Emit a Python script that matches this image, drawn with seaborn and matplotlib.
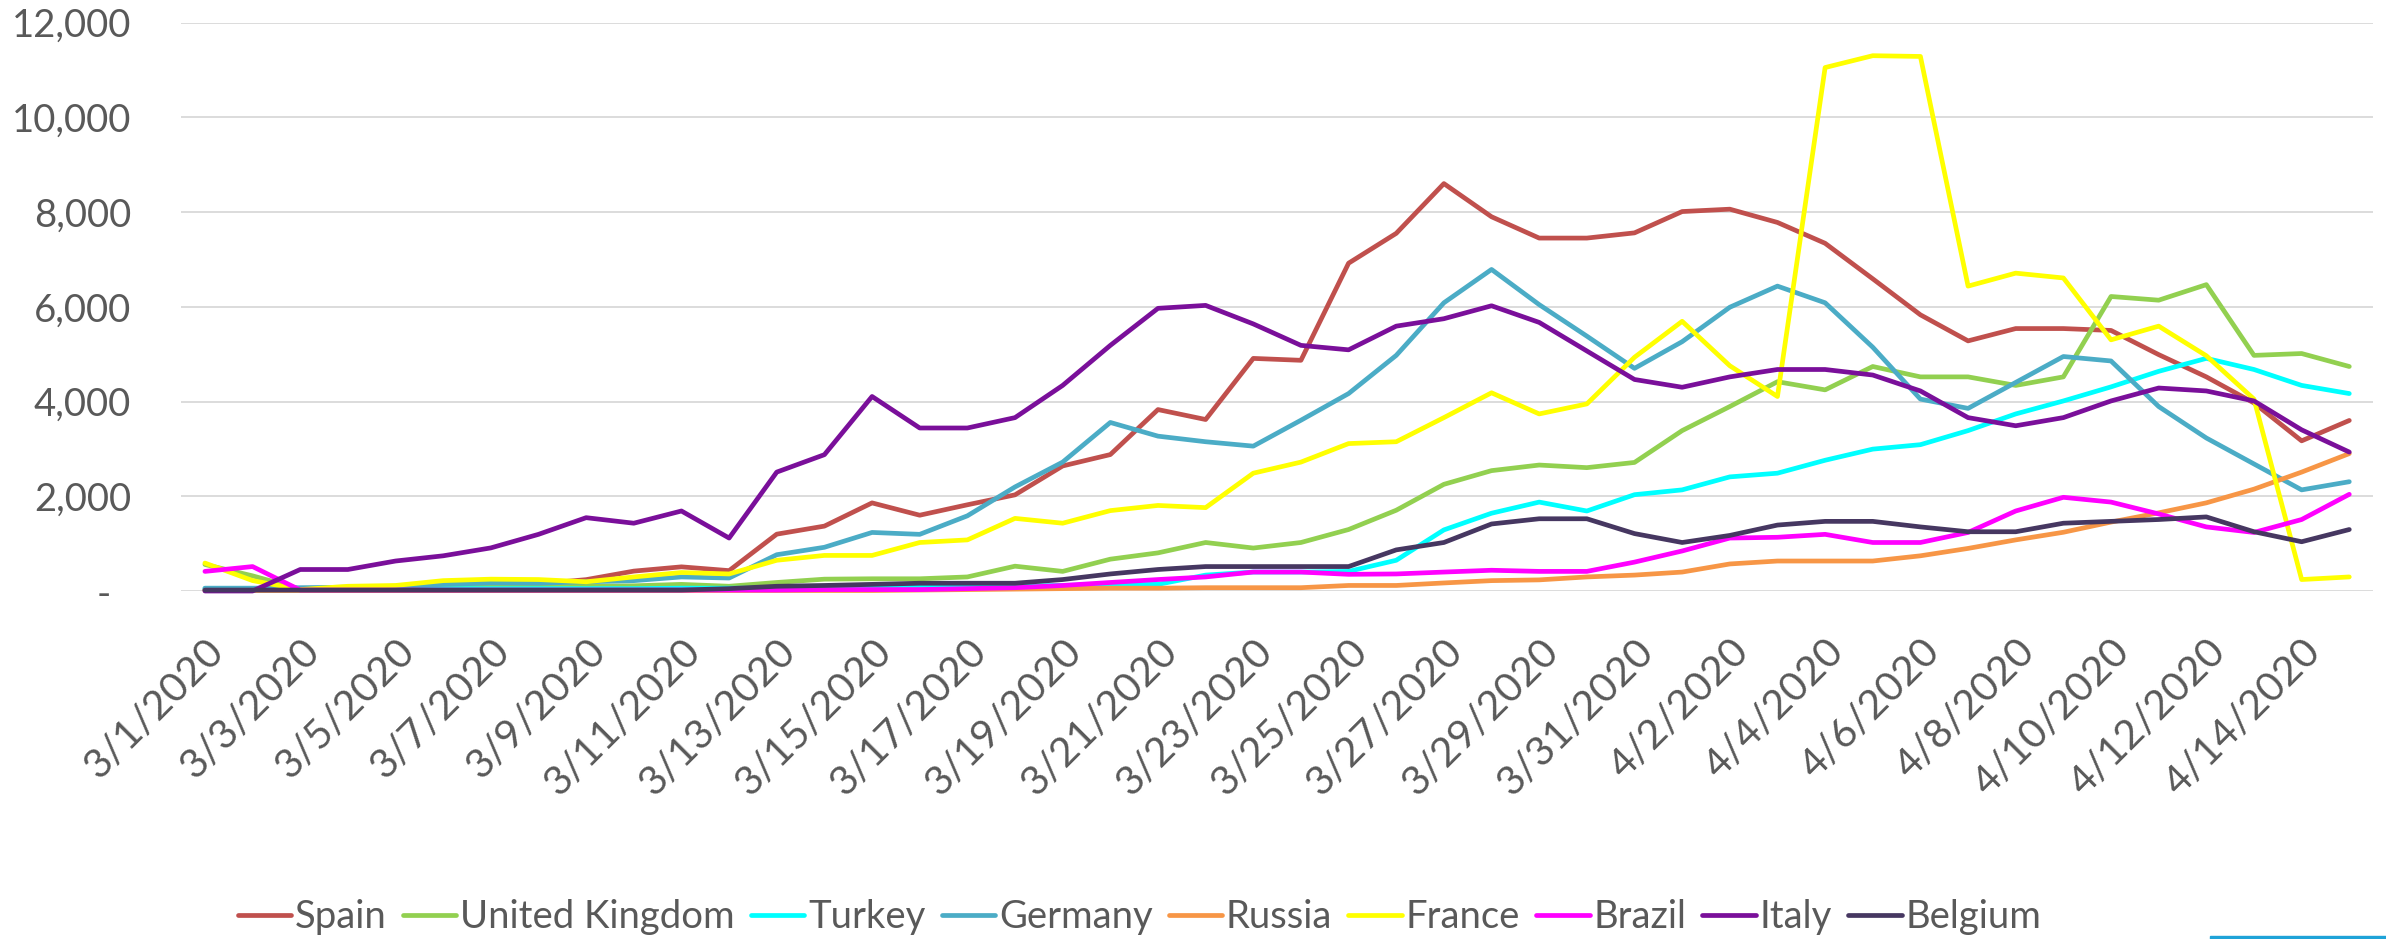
import matplotlib
matplotlib.use("Agg")
import matplotlib.pyplot as plt
from matplotlib.lines import Line2D
from matplotlib.patches import Rectangle
import pandas as pd
import seaborn as sns

dates = ["3/1/2020", "3/2/2020", "3/3/2020", "3/4/2020", "3/5/2020", "3/6/2020",
         "3/7/2020", "3/8/2020", "3/9/2020", "3/10/2020", "3/11/2020", "3/12/2020",
         "3/13/2020", "3/14/2020", "3/15/2020", "3/16/2020", "3/17/2020", "3/18/2020",
         "3/19/2020", "3/20/2020", "3/21/2020", "3/22/2020", "3/23/2020", "3/24/2020",
         "3/25/2020", "3/26/2020", "3/27/2020", "3/28/2020", "3/29/2020", "3/30/2020",
         "3/31/2020", "4/1/2020", "4/2/2020", "4/3/2020", "4/4/2020", "4/5/2020",
         "4/6/2020", "4/7/2020", "4/8/2020", "4/9/2020", "4/10/2020", "4/11/2020",
         "4/12/2020", "4/13/2020", "4/14/2020", "4/15/2020"]

countries = ["Spain", "United Kingdom", "Turkey", "Germany", "Russia",
             "France", "Brazil", "Italy", "Belgium"]

spain = [30, 40, 30, 50, 60, 80, 100, 150, 240, 420, 510, 430, 1200, 1370, 1860, 1600,
         1820, 2030, 2640, 2880, 3830, 3620, 4910, 4870, 6920, 7550, 8600, 7900, 7450,
         7450, 7560, 8010, 8060, 7780, 7340, 6590, 5830, 5280, 5540, 5540, 5500, 4990,
         4520, 3970, 3170, 3600]
uk = [560, 320, 40, 50, 60, 70, 80, 90, 100, 110, 140, 100, 180, 250, 258, 258, 297,
      524, 414, 672, 805, 1024, 907, 1024, 1298, 1705, 2252, 2541, 2659, 2604, 2714,
      3386, 3894, 4418, 4246, 4739, 4520, 4520, 4340, 4520, 6217, 6139, 6467, 4974,
      5013, 4739]
turkey = [50, 50, 50, 50, 50, 50, 50, 50, 50, 50, 60, 60, 60, 60, 60, 80, 90, 100,
          120, 130, 140, 336, 400, 400, 414, 649, 1290, 1642, 1877, 1689, 2033, 2135,
          2409, 2487, 2760, 2995, 3089, 3386, 3738, 4012, 4309, 4637, 4911, 4676, 4340,
          4168]
germany = [60, 60, 70, 80, 100, 140, 170, 164, 195, 219, 297, 274, 766, 923, 1236,
           1196, 1587, 2197, 2721, 3558, 3269, 3151, 3058, 3605, 4168, 4974, 6084, 6788,
           6045, 5380, 4700, 5263, 5990, 6436, 6084, 5146, 4051, 3855, 4403, 4950, 4856,
           3894, 3230, 2682, 2135, 2307]
russia = [10, 10, 10, 10, 10, 10, 10, 10, 10, 10, 10, 10, 10, 10, 10, 20, 30, 40, 50,
          60, 60, 70, 70, 70, 117, 117, 170, 219, 235, 297, 336, 400, 571, 633, 633, 633,
          743, 899, 1079, 1240, 1455, 1650, 1861, 2150, 2510, 2901]
france = [590, 220, 30, 100, 117, 219, 250, 242, 195, 297, 391, 360, 649, 751, 751,
          1024, 1079, 1533, 1431, 1697, 1806, 1760, 2487, 2721, 3112, 3151, 3660, 4184,
          3738, 3949, 4934, 5693, 4755, 4106, 11050, 11300, 11284, 6436, 6710, 6608,
          5302, 5591, 4966, 4051, 242, 297]
brazil = [414, 516, 20, 20, 20, 20, 20, 20, 20, 20, 20, 20, 20, 30, 30, 30, 50, 70,
          117, 180, 242, 297, 400, 400, 352, 360, 400, 438, 414, 414, 610, 845, 1118,
          1134, 1196, 1024, 1024, 1236, 1689, 1978, 1877, 1627, 1353, 1236, 1509, 2041]
italy = [0, 0, 454, 454, 633, 743, 910, 1196, 1548, 1431, 1689, 1118, 2510, 2878, 4106,
         3441, 3441, 3660, 4340, 5185, 5967, 6029, 5638, 5185, 5091, 5591, 5748, 6021,
         5670, 5067, 4465, 4301, 4520, 4676, 4676, 4559, 4223, 3660, 3488, 3660, 4012,
         4285, 4223, 4012, 3402, 2933]
belgium = [20, 20, 20, 20, 20, 20, 20, 20, 20, 20, 20, 50, 100, 117, 140, 164, 164, 164,
           242, 360, 454, 516, 516, 516, 516, 868, 1024, 1415, 1525, 1525, 1212, 1024,
           1173, 1392, 1470, 1470, 1353, 1251, 1251, 1431, 1470, 1509, 1564, 1251, 1040,
           1298]

colors = ["#C0504D", "#92D050", "#00FFFF", "#4BACC6", "#F79646",
          "#FFFF00", "#FF00FF", "#7A0F9A", "#463761"]

y_ticks = [0, 2000, 4000, 6000, 8000, 10000, 12000]
y_labels = ["-  ", "2,000", "4,000", "6,000", "8,000", "10,000", "12,000"]

series = [spain, uk, turkey, germany, russia, france, brazil, italy, belgium]
rows = []
for name, vals in zip(countries, series):
    for i, v in enumerate(vals):
        rows.append({"idx": i, "date": dates[i], "country": name, "cases": v})
df = pd.DataFrame(rows)

sns.set_theme(style="white")
plt.rcParams["font.family"] = ["Lato", "DejaVu Sans"]
text_color = "#595959"

fig = plt.figure(figsize=(23.86, 9.39), dpi=100)
ax = fig.add_axes([0.0759, 0.3706, 0.9187, 0.6054])

sns.lineplot(data=df, x="idx", y="cases", hue="country", hue_order=countries,
             palette=colors, linewidth=3.4, estimator=None, sort=False,
             legend=False, ax=ax)
for ln in ax.lines:
    ln.set_solid_joinstyle("round")
    ln.set_solid_capstyle("round")
    ln.set_clip_on(False)

ax.set_xlim(-0.5, len(dates) - 0.5)
ax.set_ylim(0, 12000)
ax.set_yticks(y_ticks)
ax.set_yticklabels(y_labels)
ax.set_xticks(list(range(0, len(dates), 2)))
ax.set_xticklabels(dates[::2], rotation=45, ha="right", rotation_mode="anchor")
ax.set_xlabel("")
ax.set_ylabel("")
ax.yaxis.grid(True, color="#D9D9D9", linewidth=1.3)
ax.xaxis.grid(False)
ax.set_axisbelow(True)
for s in ax.spines.values():
    s.set_visible(False)
ax.tick_params(axis="y", length=0, pad=36, labelsize=27.5, labelcolor=text_color)
ax.tick_params(axis="x", length=0, pad=30, labelsize=29.5, labelcolor=text_color)

handles = [Line2D([], [], color=c, linewidth=3.4, solid_capstyle="round") for c in colors]
leg = fig.legend(handles, countries, loc="center", bbox_to_anchor=(0.4776, 0.023),
                 ncol=9, frameon=False, handlelength=1.4, handletextpad=0.1,
                 columnspacing=0.42, fontsize=27.5)
for t in leg.get_texts():
    t.set_color(text_color)

fig.patches.append(Rectangle((2210 / 2386, 0), (2386 - 2210) / 2386, 3 / 939,
                             transform=fig.transFigure, color="#1FA3D8", zorder=5))

fig.savefig("out.png", dpi=100)
